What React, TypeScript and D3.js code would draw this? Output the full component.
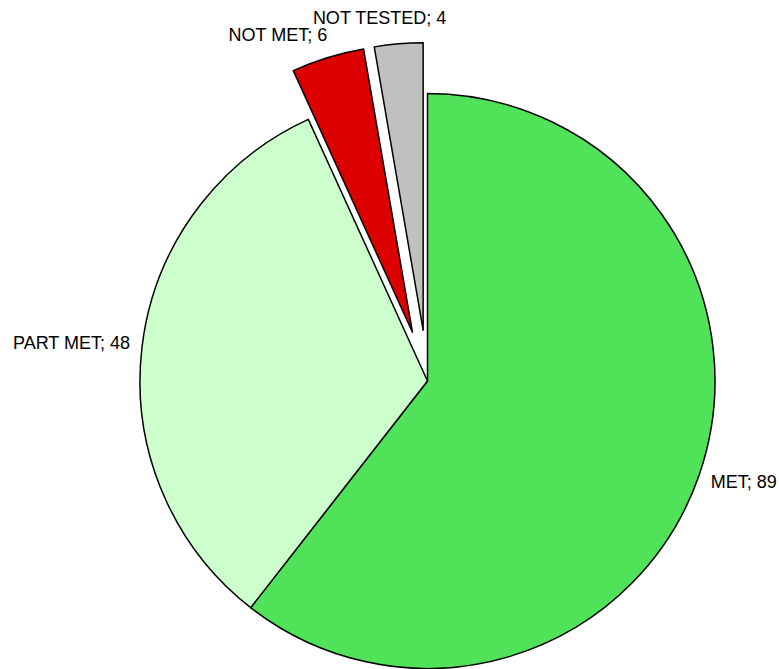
import React from "react";
import * as d3 from "d3";

const categories = ["MET", "PART MET", "NOT MET", "NOT TESTED"];
const values = [89, 48, 6, 4];
const colors = ["#50E35A", "#CCFFCC", "#DD0000", "#C0C0C0"];
const explode = [0, 0, 51, 51];
// label nudges [dx, dy] relative to the computed outside anchor point
const labelNudge: [number, number][] = [
  [0, 10],
  [0, 3],
  [3, -5],
  [-18, -8],
];

const W = 779;
const H = 669;
const cx = 427.5;
const cy = 381;
const R = 287.5;

export default function App() {
  const pie = d3
    .pie<number>()
    .sort(null)
    .value((d) => d)(values);
  const arc = d3.arc<d3.PieArcDatum<number>>().innerRadius(0).outerRadius(R);

  return (
    <svg
      width={W}
      height={H}
      style={{ position: "absolute", left: 0, top: 0, background: "#fff" }}
      fontFamily="Liberation Sans, Arial, sans-serif"
    >
      {pie.map((p, i) => {
        const mid = (p.startAngle + p.endAngle) / 2;
        const ox = Math.sin(mid) * explode[i];
        const oy = -Math.cos(mid) * explode[i];
        const lr = R + 12;
        const lx = cx + ox + Math.sin(mid) * lr + labelNudge[i][0];
        const ly = cy + oy - Math.cos(mid) * lr + labelNudge[i][1];
        const s = Math.sin(mid);
        const anchor = s > 0.3 ? "start" : s < -0.2 ? "end" : "middle";
        return (
          <g key={categories[i]}>
            <path
              d={arc(p) || ""}
              transform={`translate(${cx + ox},${cy + oy})`}
              fill={colors[i]}
              stroke="#000"
              strokeWidth={1.5}
              strokeLinejoin="round"
            />
            <text
              x={lx}
              y={ly}
              textAnchor={anchor}
              fontSize={18}
              fill="#000"
            >
              {`${categories[i]}; ${values[i]}`}
            </text>
          </g>
        );
      })}
    </svg>
  );
}
